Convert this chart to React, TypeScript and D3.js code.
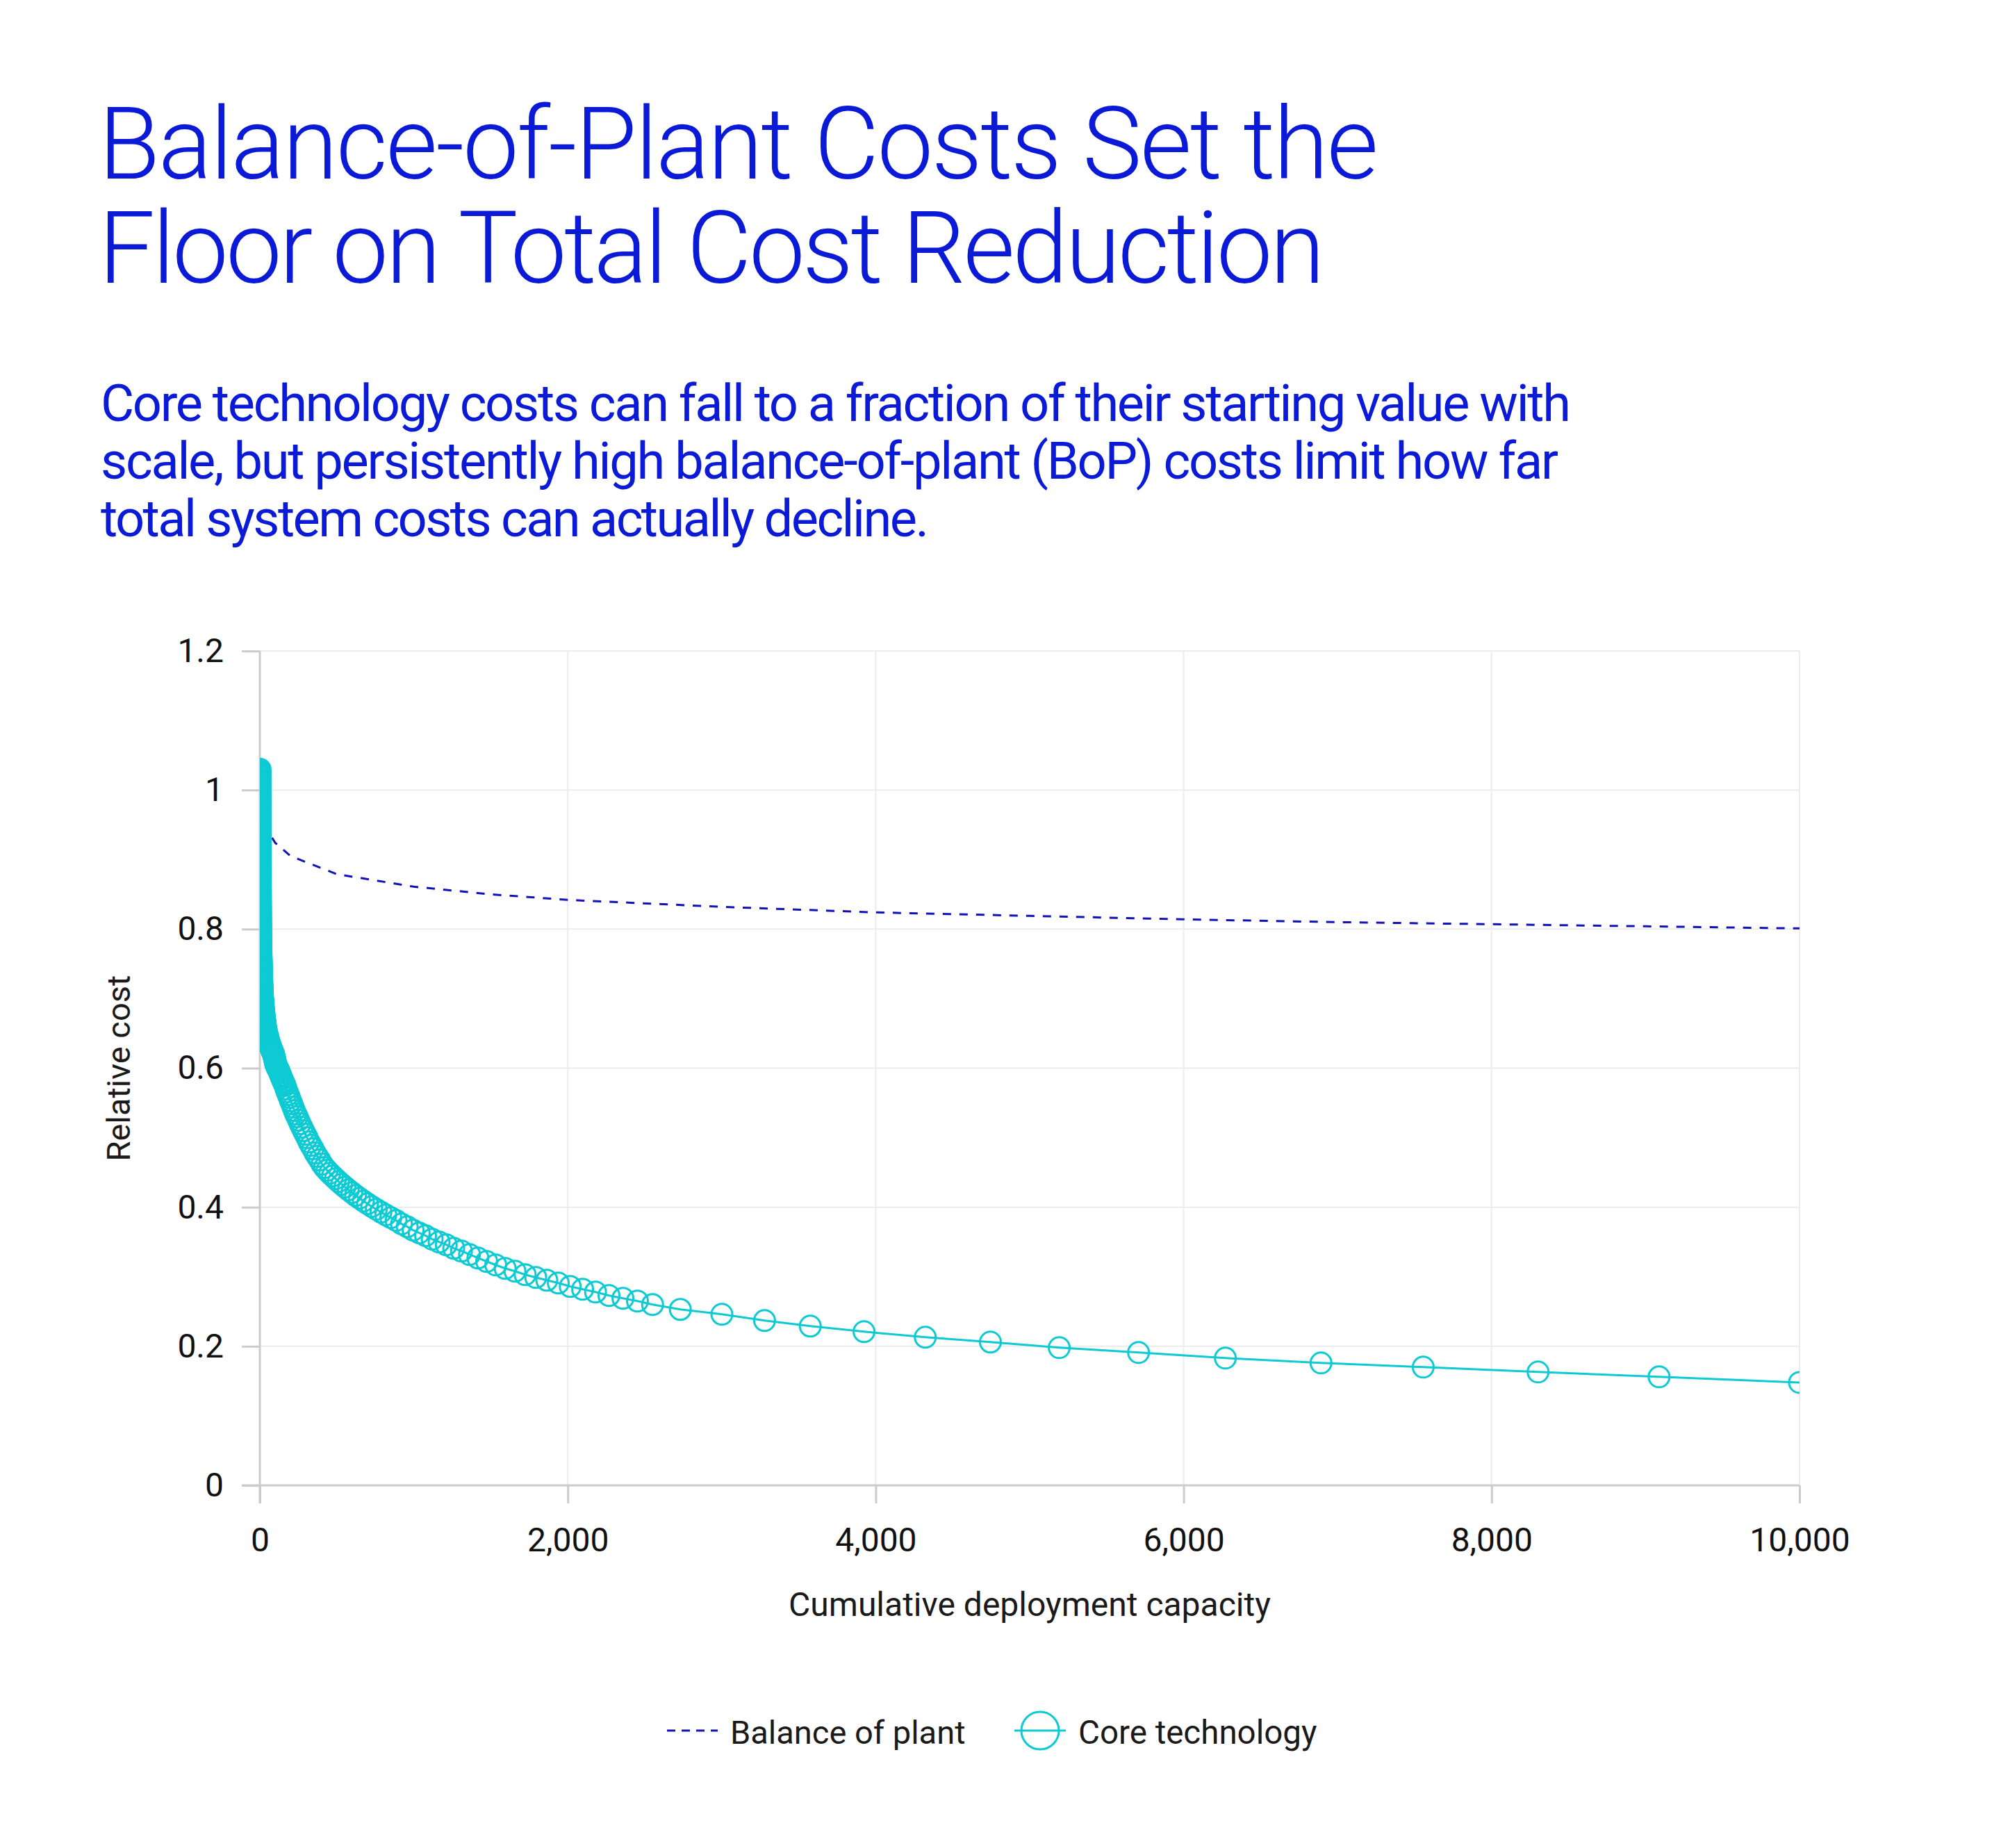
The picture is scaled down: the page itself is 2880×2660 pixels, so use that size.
import React, { useEffect, useRef } from 'react';
import * as d3 from 'd3';

// Core technology: very dense deployment steps near the start, then sparser towards 10,000
const coreCapacity = [
  1, 1.0198, 1.04, 1.0606, 1.0816, 1.103, 1.1249, 1.1472, 1.1699, 1.1931,
  1.2167, 1.2408, 1.2653, 1.2904, 1.3159, 1.3419, 1.3686, 1.3957, 1.4233, 1.4515,
  1.4802, 1.5095, 1.5395, 1.57, 1.601, 1.6327, 1.6651, 1.6981, 1.7317, 1.766,
  1.8009, 1.8366, 1.873, 1.9101, 1.9479, 1.9865, 2.0258, 2.0659, 2.1068, 2.1485,
  2.1911, 2.2345, 2.2788, 2.3239, 2.3699, 2.4168, 2.4647, 2.5135, 2.5633, 2.6141,
  2.6658, 2.7186, 2.7725, 2.8274, 2.8834, 2.9405, 2.9987, 3.0581, 3.1187, 3.1805,
  3.2434, 3.3076, 3.3731, 3.4399, 3.5081, 3.5776, 3.6484, 3.7206, 3.7943, 3.8694,
  3.9461, 4.0242, 4.1039, 4.1852, 4.2681, 4.3526, 4.4388, 4.5267, 4.6164, 4.7078,
  4.801, 4.8961, 4.9931, 5.092, 5.1928, 5.2956, 5.4005, 5.5074, 5.6165, 5.7277,
  5.8412, 5.9569, 6.0748, 6.1951, 6.3178, 6.4429, 6.5705, 6.7006, 6.8333, 6.9686,
  7.1067, 7.2474, 7.391, 7.5373, 7.6866, 7.8388, 7.9941, 8.1524, 8.3138, 8.4784,
  8.6464, 8.8176, 8.9922, 9.1702, 9.3519, 9.5371, 9.726, 9.9186, 10.115, 10.315,
  10.52, 10.728, 10.94, 11.157, 11.378, 11.603, 11.833, 12.067, 12.306, 12.55,
  12.799, 13.052, 13.311, 13.575, 13.843, 14.117, 14.397, 14.682, 14.973, 15.269,
  15.572, 15.88, 16.194, 16.515, 16.842, 17.175, 17.516, 17.863, 18.217, 18.578,
  18.945, 19.32, 19.703, 20.093, 20.491, 20.897, 21.311, 21.733, 22.163, 22.602,
  23.05, 23.506, 23.972, 24.447, 24.931, 25.425, 25.928, 26.441, 26.965, 27.499,
  28.044, 28.599, 29.165, 29.742, 30.332, 30.933, 31.545, 32.17, 32.807, 33.457,
  34.119, 34.795, 35.484, 36.187, 36.903, 37.634, 38.38, 39.14, 39.915, 40.705,
  41.511, 42.333, 43.172, 44.027, 44.899, 45.788, 46.695, 47.62, 48.562, 49.524,
  50.505, 51.505, 52.525, 53.565, 54.626, 55.708, 56.811, 57.936, 59.084, 60.254,
  61.447, 62.664, 63.905, 65.17, 66.461, 67.777, 69.12, 70.489, 71.884, 73.307,
  74.76, 76.24, 77.75, 79.29, 80.86, 82.461, 84.095, 85.76, 87.459, 89.191,
  90.957, 92.758, 94.595, 96.468, 98.379, 100.33, 102.31, 104.34,
  106.41, 110.66, 115.09, 119.69, 124.48, 129.46, 134.64, 140.02, 145.63, 151.45,
  157.51, 163.81, 170.36, 177.18, 184.26, 191.63, 199.3, 207.27, 215.56, 224.18,
  233.15, 242.48, 252.17, 262.26, 272.75, 283.66, 295.01, 306.81, 319.08, 331.84,
  345.12, 358.92, 373.28, 388.21, 403.74, 419.89, 436.68, 454.15, 472.32, 491.21,
  510.86, 531.29, 552.54, 574.65, 597.63, 621.54, 646.4, 672.25, 699.14, 727.11,
  756.19, 786.44, 817.9, 850.61, 884.64, 920.02, 956.82, 995.1, 1034.9, 1076.3,
  1119.3, 1164.1, 1210.7, 1259.1, 1309.5, 1361.8, 1416.3, 1473.0, 1531.9, 1593.2,
  1656.9, 1723.2, 1792.1, 1863.8, 1938.3, 2015.9, 2096.5, 2180.4, 2267.6, 2358.3,
  2452.6, 2550.7,
  2731, 3001, 3278, 3575, 3924, 4322, 4745, 5192, 5707, 6271,
  6892, 7556, 8302, 9088, 10000,
];

const coreCost = [
  1.03, 1.0275, 1.025, 1.0225, 1.02, 1.017, 1.014, 1.0115, 1.009, 1.0065,
  1.004, 1.0015, 0.999, 0.9965, 0.994, 0.991, 0.988, 0.9855, 0.983, 0.9805,
  0.978, 0.9755, 0.973, 0.97, 0.967, 0.9645, 0.962, 0.9595, 0.957, 0.9545,
  0.952, 0.9495, 0.947, 0.944, 0.941, 0.9385, 0.936, 0.9335, 0.931, 0.9285,
  0.926, 0.9235, 0.921, 0.918, 0.915, 0.9125, 0.91, 0.9075, 0.905, 0.9025,
  0.9, 0.8975, 0.895, 0.892, 0.889, 0.8865, 0.884, 0.8815, 0.879, 0.8765,
  0.874, 0.871, 0.868, 0.8655, 0.863, 0.8605, 0.858, 0.8555, 0.853, 0.8505,
  0.848, 0.845, 0.842, 0.8395, 0.837, 0.8345, 0.832, 0.8295, 0.827, 0.8245,
  0.822, 0.819, 0.816, 0.8135, 0.811, 0.8085, 0.806, 0.8035, 0.801, 0.7985,
  0.796, 0.793, 0.79, 0.7875, 0.785, 0.7825, 0.78, 0.7775, 0.775, 0.7725,
  0.77, 0.7685, 0.767, 0.7655, 0.764, 0.762, 0.76, 0.7585, 0.757, 0.7555,
  0.754, 0.7525, 0.751, 0.7495, 0.748, 0.7465, 0.745, 0.7435, 0.742, 0.7405,
  0.739, 0.7375, 0.736, 0.7345, 0.733, 0.731, 0.729, 0.7275, 0.726, 0.7245,
  0.723, 0.7215, 0.72, 0.7185, 0.717, 0.7155, 0.714, 0.7125, 0.711, 0.7095,
  0.708, 0.7065, 0.705, 0.704, 0.703, 0.7015, 0.7, 0.699, 0.698, 0.697,
  0.696, 0.695, 0.694, 0.693, 0.692, 0.691, 0.69, 0.6885, 0.687, 0.686,
  0.685, 0.684, 0.683, 0.682, 0.681, 0.68, 0.679, 0.678, 0.677, 0.6755,
  0.674, 0.673, 0.672, 0.671, 0.67, 0.669, 0.668, 0.667, 0.666, 0.665,
  0.664, 0.6625, 0.661, 0.66, 0.659, 0.658, 0.657, 0.656, 0.655, 0.654,
  0.653, 0.652, 0.651, 0.6505, 0.65, 0.649, 0.648, 0.647, 0.646, 0.6455,
  0.645, 0.644, 0.643, 0.642, 0.641, 0.6405, 0.64, 0.639, 0.638, 0.637,
  0.636, 0.635, 0.634, 0.6335, 0.633, 0.632, 0.631, 0.63, 0.629, 0.6285,
  0.628, 0.627, 0.626, 0.625, 0.624, 0.6235, 0.623, 0.622, 0.621, 0.6195,
  0.618, 0.6165, 0.615, 0.613, 0.611, 0.609, 0.607, 0.6055,
  0.604, 0.602, 0.6, 0.598, 0.596, 0.593, 0.59, 0.587, 0.584, 0.581,
  0.578, 0.575, 0.57, 0.566, 0.562, 0.558, 0.553, 0.549, 0.544, 0.539,
  0.534, 0.53, 0.525, 0.52, 0.515, 0.51, 0.505, 0.5, 0.494, 0.489,
  0.484, 0.478, 0.473, 0.468, 0.462, 0.457, 0.453, 0.449, 0.445, 0.441,
  0.437, 0.433, 0.429, 0.425, 0.421, 0.417, 0.413, 0.409, 0.405, 0.401,
  0.397, 0.393, 0.389, 0.385, 0.381, 0.376, 0.372, 0.367, 0.363, 0.359,
  0.354, 0.35, 0.346, 0.341, 0.337, 0.332, 0.327, 0.322, 0.317, 0.312,
  0.308, 0.303, 0.299, 0.295, 0.291, 0.286, 0.282, 0.278, 0.273, 0.269,
  0.265, 0.26,
  0.253, 0.246, 0.237, 0.229, 0.221, 0.213, 0.206, 0.198, 0.191, 0.183,
  0.176, 0.17, 0.163, 0.156, 0.148,
];

// Balance of plant
const bopCapacity = [1, 2, 5, 10, 20, 50, 100, 200, 500, 1000, 1500, 2000, 3000, 4000, 5000, 6000, 7000, 8000, 9000, 10000];
const bopCost = [1.0, 0.995, 0.983, 0.972, 0.96, 0.942, 0.924, 0.905, 0.879, 0.861, 0.85, 0.842, 0.832, 0.824, 0.819, 0.814, 0.81, 0.807, 0.804, 0.801];

const xTicks = [0, 2000, 4000, 6000, 8000, 10000];
const yTicks = [0, 0.2, 0.4, 0.6, 0.8, 1, 1.2];

const titleLines = ['Balance-of-Plant Costs Set the', 'Floor on Total Cost Reduction'];
const subtitleLines = [
  'Core technology costs can fall to a fraction of their starting value with',
  'scale, but persistently high balance-of-plant (BoP) costs limit how far',
  'total system costs can actually decline.',
];

const BLUE = '#0a1ad6';
const DASH_BLUE = '#1212b8';
const CYAN = '#0dcad3';
const FONT = 'Roboto, "Liberation Sans", Arial, sans-serif';

const App: React.FC = () => {
  const svgRef = useRef<SVGSVGElement>(null);

  useEffect(() => {
    if (!svgRef.current) return;
    const svg = d3.select(svgRef.current);
    svg.selectAll('*').remove();

    // Title
    const titleLengths = [1842, 1765];
    titleLines.forEach((line, i) => {
      svg.append('text')
        .attr('x', 142)
        .attr('y', 257 + i * 150)
        .attr('textLength', titleLengths[i])
        .attr('lengthAdjust', 'spacing')
        .style('font-family', FONT)
        .style('font-weight', 300)
        .style('font-size', '144px')
        .style('fill', BLUE)
        .text(line);
    });

    // Subtitle
    const subLengths = [2116, 2098, 1192];
    subtitleLines.forEach((line, i) => {
      svg.append('text')
        .attr('x', 145)
        .attr('y', 606 + i * 83)
        .attr('textLength', subLengths[i])
        .attr('lengthAdjust', 'spacing')
        .style('font-family', FONT)
        .style('font-weight', 400)
        .style('font-size', '74px')
        .style('fill', BLUE)
        .text(line);
    });

    const left = 374, right = 2590, top = 937, bottom = 2138;
    const x = d3.scaleLinear().domain([0, 10000]).range([left, right]);
    const y = d3.scaleLinear().domain([0, 1.2]).range([bottom, top]);

    const g = svg.append('g');

    // Gridlines
    g.append('g')
      .selectAll('line')
      .data(yTicks)
      .join('line')
      .attr('x1', left).attr('x2', right)
      .attr('y1', d => y(d)).attr('y2', d => y(d))
      .style('stroke', '#ececec').style('stroke-width', 2);

    g.append('g')
      .selectAll('line')
      .data(xTicks.filter(d => d > 0))
      .join('line')
      .attr('x1', d => x(d)).attr('x2', d => x(d))
      .attr('y1', top).attr('y2', bottom)
      .style('stroke', '#ececec').style('stroke-width', 2);

    // Axes
    const yAxis = d3.axisLeft(y)
      .tickValues(yTicks)
      .tickSize(26)
      .tickSizeOuter(0)
      .tickPadding(26)
      .tickFormat(d => d3.format('~g')(d as number));

    const yg = g.append('g')
      .attr('transform', `translate(${left},0)`)
      .call(yAxis as any);
    yg.select('.domain').remove();
    yg.selectAll('.tick line').style('stroke', '#cccccc').style('stroke-width', 3);
    yg.selectAll('.tick text')
      .style('font-family', FONT)
      .style('font-size', '48px')
      .style('fill', '#111');

    const xAxis = d3.axisBottom(x)
      .tickValues(xTicks)
      .tickSize(26)
      .tickSizeOuter(0)
      .tickPadding(35)
      .tickFormat(d => d3.format(',')(d as number));

    const xg = g.append('g')
      .attr('transform', `translate(0,${bottom})`)
      .call(xAxis as any);
    xg.select('.domain').remove();
    xg.selectAll('.tick line').style('stroke', '#cccccc').style('stroke-width', 3);
    xg.selectAll('.tick text')
      .style('font-family', FONT)
      .style('font-size', '48px')
      .style('fill', '#111');

    // Axis lines
    g.append('line')
      .attr('x1', left).attr('x2', left)
      .attr('y1', top).attr('y2', bottom + 26)
      .style('stroke', '#cccccc').style('stroke-width', 3);
    g.append('line')
      .attr('x1', left - 26).attr('x2', right)
      .attr('y1', bottom).attr('y2', bottom)
      .style('stroke', '#cccccc').style('stroke-width', 3);

    // Axis titles
    g.append('text')
      .attr('x', (left + right) / 2)
      .attr('y', 2326)
      .style('text-anchor', 'middle')
      .style('font-family', FONT)
      .style('font-size', '48px')
      .style('fill', '#1a1a1a')
      .text('Cumulative deployment capacity');

    g.append('text')
      .attr('transform', `translate(187,${(top + bottom) / 2}) rotate(-90)`)
      .style('text-anchor', 'middle')
      .style('font-family', FONT)
      .style('font-size', '47px')
      .style('fill', '#1a1a1a')
      .text('Relative cost');

    // Clip to the plot area
    svg.append('defs')
      .append('clipPath')
      .attr('id', 'plot-clip')
      .append('rect')
      .attr('x', left).attr('y', top - 40)
      .attr('width', right - left).attr('height', bottom - top + 40);

    const plot = g.append('g').attr('clip-path', 'url(#plot-clip)');

    const bopData = bopCapacity.map((c, i) => [c, bopCost[i]] as [number, number]);
    const coreData = coreCapacity.map((c, i) => [c, coreCost[i]] as [number, number]);

    const line = d3.line<[number, number]>()
      .x(d => x(d[0]))
      .y(d => y(d[1]));

    plot.append('path')
      .datum(bopData)
      .attr('d', line)
      .style('fill', 'none')
      .style('stroke', DASH_BLUE)
      .style('stroke-width', 3)
      .style('stroke-dasharray', '12,12');

    plot.append('path')
      .datum(coreData)
      .attr('d', line)
      .style('fill', 'none')
      .style('stroke', CYAN)
      .style('stroke-width', 3);

    plot.append('g')
      .selectAll('circle')
      .data(coreData)
      .join('circle')
      .attr('cx', d => x(d[0]))
      .attr('cy', d => y(d[1]))
      .attr('r', 15)
      .style('fill', 'none')
      .style('stroke', CYAN)
      .style('stroke-width', 3);

    // Legend
    const legY = 2491;
    const leg = svg.append('g');
    leg.append('line')
      .attr('x1', 960).attr('x2', 1033)
      .attr('y1', legY).attr('y2', legY)
      .style('stroke', DASH_BLUE)
      .style('stroke-width', 3)
      .style('stroke-dasharray', '12,9');
    leg.append('text')
      .attr('x', 1051).attr('y', 2510)
      .style('font-family', FONT)
      .style('font-size', '47px')
      .style('fill', '#1a1a1a')
      .text('Balance of plant');

    leg.append('line')
      .attr('x1', 1460).attr('x2', 1534)
      .attr('y1', legY).attr('y2', legY)
      .style('stroke', CYAN)
      .style('stroke-width', 3);
    leg.append('circle')
      .attr('cx', 1497).attr('cy', legY)
      .attr('r', 27)
      .style('fill', 'none')
      .style('stroke', CYAN)
      .style('stroke-width', 3);
    leg.append('text')
      .attr('x', 1552).attr('y', 2510)
      .style('font-family', FONT)
      .style('font-size', '47.5px')
      .style('fill', '#1a1a1a')
      .text('Core technology');
  }, []);

  return (
    <div style={{ position: 'absolute', left: 0, top: 0, background: '#fff' }}>
      <svg ref={svgRef} width={2880} height={2660} style={{ display: 'block', background: '#fff' }} />
    </div>
  );
};

export default App;
